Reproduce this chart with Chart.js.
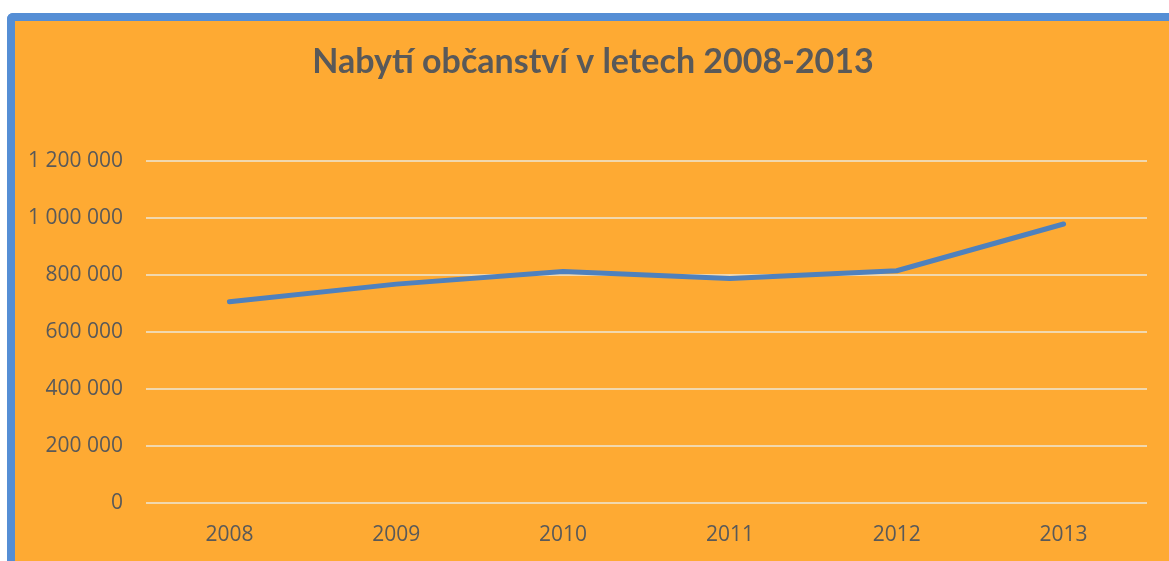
<!DOCTYPE html>
<html>
<head>
<meta charset="utf-8">
<script src="https://cdn.jsdelivr.net/npm/chart.js@4.4.1/dist/chart.umd.min.js"></script>
<style>
  html, body { margin: 0; padding: 0; background: #ffffff; overflow: hidden; }
  #frame {
    position: absolute; left: 7px; top: 13px;
    width: 1154px; height: 540px;
    border-left: 8px solid #558ED5; border-top: 8px solid #558ED5;
    border-top-left-radius: 6px;
    background: #FEAA33;
  }
  canvas { display: block; }
</style>
</head>
<body>
<div id="frame"><canvas id="c" width="1154" height="540"></canvas></div>
<script>
const years = ['2008', '2009', '2010', '2011', '2012', '2013'];
const naturalisations = [706000, 768000, 812000, 788000, 815000, 979000];
const yTickValues = [0, 200000, 400000, 600000, 800000, 1000000, 1200000];
const chartTitle = 'Nabytí občanství v letech 2008-2013';

const fmt = v => String(v).replace(/\B(?=(\d{3})+(?!\d))/g, ' ');

const titlePlugin = {
  id: 'offsetTitle',
  afterDraw(chart) {
    const ctx = chart.ctx;
    ctx.save();
    ctx.font = 'bold 34px Lato';
    ctx.fillStyle = '#595959';
    ctx.textAlign = 'center';
    ctx.textBaseline = 'middle';
    ctx.fillText(chartTitle, 578, 41);
    ctx.restore();
  }
};

new Chart(document.getElementById('c'), {
  type: 'line',
  data: {
    labels: years,
    datasets: [{
      data: naturalisations,
      borderColor: '#4F81BD',
      borderWidth: 5,
      borderCapStyle: 'round',
      borderJoinStyle: 'round',
      pointRadius: 0,
      tension: 0,
      fill: false
    }]
  },
  plugins: [titlePlugin],
  options: {
    responsive: false,
    devicePixelRatio: 1,
    animation: false,
    layout: { padding: { top: 140, right: 22, bottom: 0, left: 0 } },
    plugins: {
      legend: { display: false },
      tooltip: { enabled: false },
      title: { display: false }
    },
    scales: {
      x: {
        offset: true,
        grid: { display: false, drawTicks: false },
        border: { display: false },
        ticks: { color: '#595959', font: { family: 'Open Sans', size: 21 }, padding: 19, maxRotation: 0 },
        afterFit: s => { s.height = 58; }
      },
      y: {
        min: 0,
        max: 1200000,
        afterBuildTicks: s => { s.ticks = yTickValues.map(v => ({ value: v })); },
        grid: { color: '#F1D8AE', lineWidth: 2, drawTicks: false },
        border: { display: false },
        ticks: { color: '#595959', font: { family: 'Open Sans', size: 21 }, padding: 23, callback: v => fmt(v) },
        afterFit: s => { s.width = 131; }
      }
    }
  }
});
</script>
</body>
</html>
